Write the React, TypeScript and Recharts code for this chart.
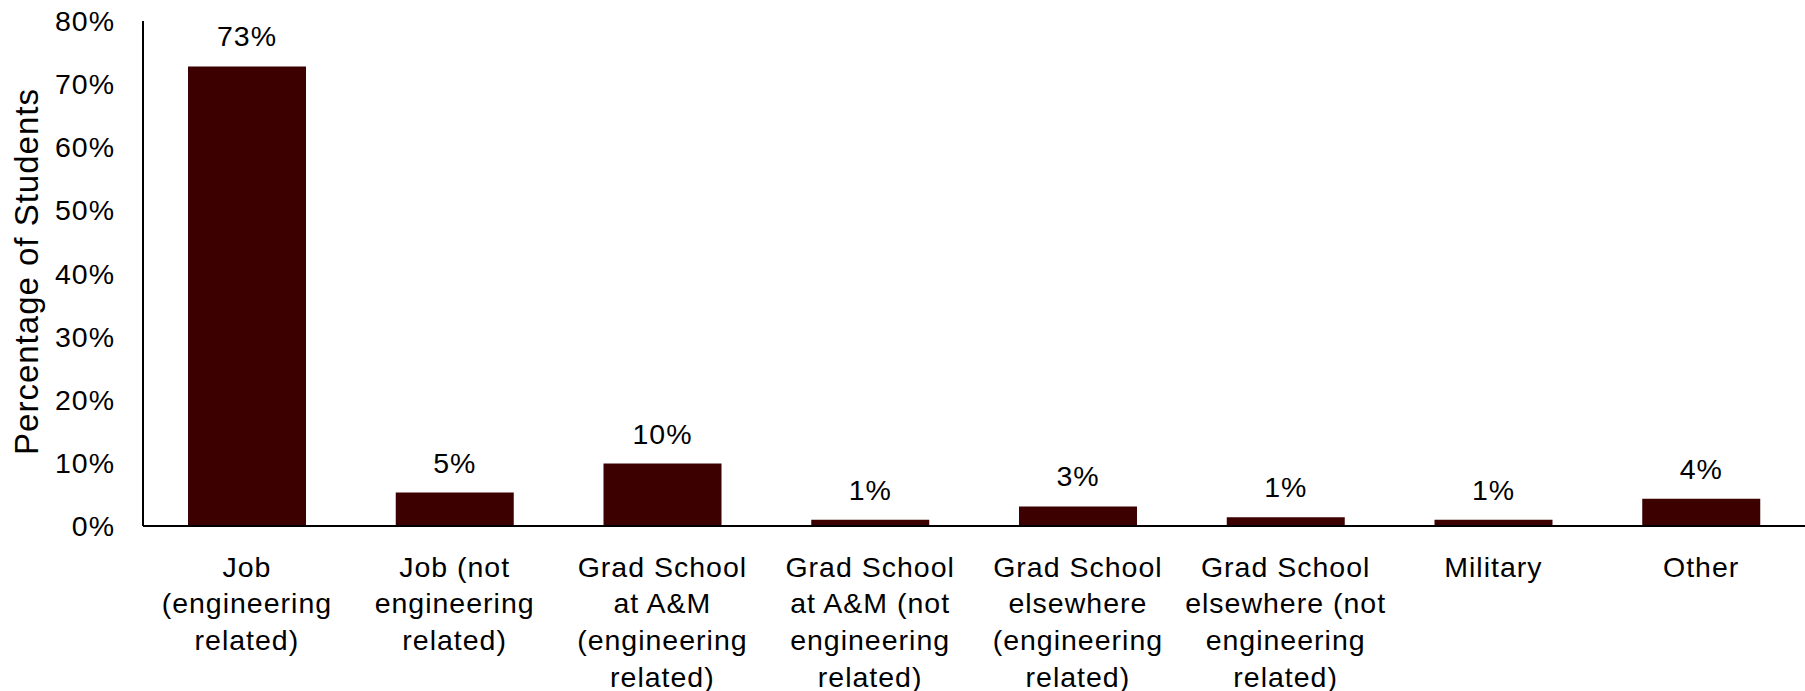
import { Bar, BarChart, LabelList, XAxis, YAxis } from "recharts";

const categoryLines = [
  ["Job", "(engineering", "related)"],
  ["Job (not", "engineering", "related)"],
  ["Grad School", "at A&M", "(engineering", "related)"],
  ["Grad School", "at A&M (not", "engineering", "related)"],
  ["Grad School", "elsewhere", "(engineering", "related)"],
  ["Grad School", "elsewhere (not", "engineering", "related)"],
  ["Military"],
  ["Other"],
];

const percentages = [72.8, 5.3, 9.9, 1.0, 3.1, 1.4, 1.0, 4.3];

const yTicks = [0, 10, 20, 30, 40, 50, 60, 70, 80];

const categories = categoryLines.map((lines) => lines.join(" "));

const data = categories.map((name, i) => ({ name, value: percentages[i] }));

const FONT = '"Liberation Sans", Arial, sans-serif';
const BAR_COLOR = "#3c0000";

function CategoryTick({ x, y, payload }: any) {
  const idx = categories.indexOf(payload.value);
  const lines = idx >= 0 ? categoryLines[idx] : [String(payload.value)];
  return (
    <text
      x={x}
      y={y + 50.5}
      textAnchor="middle"
      fontFamily={FONT}
      fontSize={28.5}
      letterSpacing={1}
      fill="#000"
    >
      {lines.map((line, i) => (
        <tspan key={i} x={x} dy={i === 0 ? 0 : 36.7}>
          {line}
        </tspan>
      ))}
    </text>
  );
}

function YTitle({ viewBox }: any) {
  const cy = viewBox.y + viewBox.height / 2 - 2;
  const bx = viewBox.x + 38;
  return (
    <text
      transform={`translate(${bx}, ${cy}) rotate(-90)`}
      textAnchor="middle"
      fontFamily={FONT}
      fontSize={33}
      letterSpacing={1}
      fill="#000"
    >
      Percentage of Students
    </text>
  );
}

export default function App() {
  return (
    <div style={{ position: "absolute", left: 0, top: 0, background: "#fff" }}>
      <BarChart
        width={1805}
        height={691}
        data={data}
        margin={{ top: 21, right: 0, bottom: 0, left: 0 }}
      >
        <XAxis
          dataKey="name"
          height={165}
          interval={0}
          tickLine={false}
          tickSize={0}
          tickMargin={0}
          axisLine={{ stroke: "#000", strokeWidth: 2 }}
          tick={<CategoryTick />}
        />
        <YAxis
          width={143}
          domain={[0, 80]}
          ticks={yTicks}
          interval={0}
          tickLine={false}
          tickSize={0}
          tickMargin={28}
          axisLine={{ stroke: "#000", strokeWidth: 2 }}
          tickFormatter={(v: number) => `${v}%`}
          tick={{ fontSize: 28.5, fill: "#000", fontFamily: FONT, letterSpacing: 1 }}
          label={{ content: <YTitle /> }}
        />
        <Bar dataKey="value" fill={BAR_COLOR} barSize={118} isAnimationActive={false}>
          <LabelList
            dataKey="value"
            position="top"
            offset={20}
            formatter={(v: any) => `${Math.round(Number(v))}%`}
            style={{ fontSize: 28.5, fill: "#000", fontFamily: FONT, letterSpacing: 1 }}
          />
        </Bar>
      </BarChart>
    </div>
  );
}
